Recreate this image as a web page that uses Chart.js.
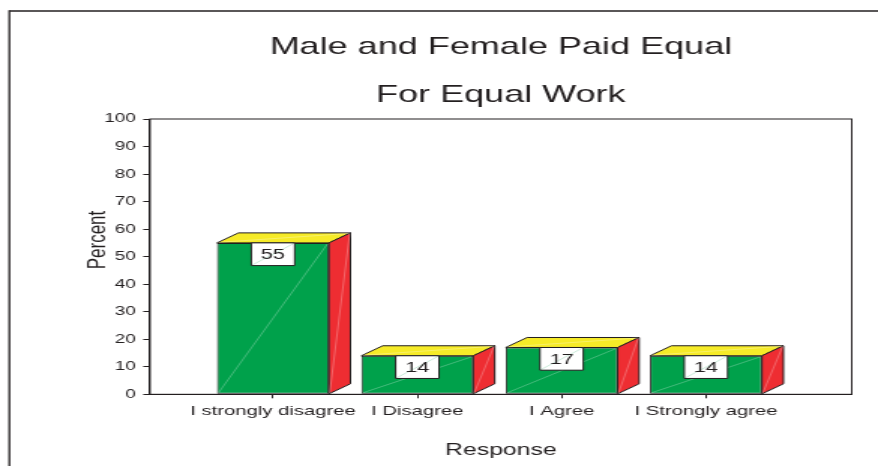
<!DOCTYPE html>
<html><head><meta charset="utf-8">
<script src="https://cdn.jsdelivr.net/npm/chart.js@4"></script>
<style>html,body{margin:0;padding:0;background:#fff;overflow:hidden}canvas{display:block}</style>
</head><body>
<canvas id="c" width="585" height="466" style="width:878px;height:466px"></canvas>
<script>
// ---- data ----
const categories = ['I strongly disagree', 'I Disagree', 'I Agree', 'I Strongly agree'];
const percentValues = [55, 14, 17, 14];
const yTickMin = 0;
const yTickMax = 100;
const yTickStep = 10;
const titleLines = ['Male and Female Paid Equal', 'For Equal Work'];
const xAxisTitle = 'Response';
const yAxisTitle = 'Percent';

// ---- styling ----
const FONT = "'Liberation Sans', Arial, Helvetica, sans-serif";
const INK = '#231F20';
const FRONT = '#00A14B', TOP = '#F6EB28', SIDE = '#EE2D32';
const DX = 14.3, DY = 10;
const BOX_W = 28.9, BOX_H = 22.7;

Chart.defaults.font.family = FONT;
Chart.defaults.color = INK;

function poly(ctx, pts, fill) {
  ctx.beginPath();
  ctx.moveTo(pts[0][0], pts[0][1]);
  for (let i = 1; i < pts.length; i++) ctx.lineTo(pts[i][0], pts[i][1]);
  ctx.closePath();
  ctx.fillStyle = fill; ctx.fill();
  ctx.strokeStyle = INK; ctx.lineWidth = 1; ctx.stroke();
}
function seam(ctx, x1, y1, x2, y2, color) {
  ctx.beginPath(); ctx.moveTo(x1, y1); ctx.lineTo(x2, y2);
  ctx.strokeStyle = color; ctx.lineWidth = 0.6; ctx.stroke();
}

const decorPlugin = {
  id: 'decor',
  beforeDraw(chart) {
    const ctx = chart.ctx;
    ctx.save();
    ctx.strokeStyle = INK;
    ctx.lineWidth = 1.6;
    ctx.beginPath(); ctx.moveTo(6.2, 11); ctx.lineTo(chart.width, 11); ctx.stroke();
    ctx.lineWidth = 1.3;
    ctx.beginPath(); ctx.moveTo(6.2, 10.2); ctx.lineTo(6.2, chart.height); ctx.stroke();
    ctx.restore();
  },
  afterDatasetsDraw(chart) {
    const ctx = chart.ctx;
    const meta = chart.getDatasetMeta(0);
    ctx.save();
    ctx.lineJoin = 'round';
    meta.data.forEach((bar, i) => {
      const {x, y, base, width} = bar.getProps(['x', 'y', 'base', 'width'], true);
      const l = x - width / 2, r = x + width / 2;
      poly(ctx, [[l, y], [l + DX, y - DY], [r + DX, y - DY], [r, y]], TOP);
      poly(ctx, [[r, y], [r + DX, y - DY], [r + DX, base - DY], [r, base]], SIDE);
      seam(ctx, l + 1, base - 1, r - 1, y + 1, 'rgba(255,255,255,0.45)');
      seam(ctx, r + 0.5, base - 0.5, r + DX - 0.5, y - DY + 0.5, 'rgba(255,255,255,0.45)');
      seam(ctx, l + 1, y - 0.5, r + DX - 1, y - DY + 0.5, 'rgba(255,255,255,0.5)');
      // value box
      const bx = x - BOX_W / 2, by = y;
      ctx.fillStyle = '#fff';
      ctx.fillRect(bx, by, BOX_W, BOX_H);
      seam(ctx, bx + 0.5, by + BOX_H - 0.5, bx + BOX_W - 0.5, by + 0.5, 'rgba(0,161,75,0.35)');
      ctx.strokeStyle = INK; ctx.lineWidth = 1;
      ctx.strokeRect(bx, by, BOX_W, BOX_H);
      ctx.fillStyle = INK;
      ctx.font = '14.5px ' + FONT;
      ctx.textAlign = 'center';
      ctx.textBaseline = 'middle';
      ctx.fillText(String(chart.data.datasets[0].data[i].y), x, by + BOX_H / 2 + 1);
    });
    ctx.restore();
  },
  afterDraw(chart) {
    const ctx = chart.ctx, a = chart.chartArea;
    ctx.save();
    ctx.strokeStyle = INK; ctx.lineWidth = 1;
    ctx.strokeRect(a.left, a.top, a.right - a.left, a.bottom - a.top);
    ctx.translate(65, 240);
    ctx.rotate(-Math.PI / 2);
    ctx.fillStyle = INK;
    ctx.font = '17px ' + FONT;
    ctx.textAlign = 'center';
    ctx.textBaseline = 'middle';
    ctx.fillText(yAxisTitle, 0, 0);
    ctx.restore();
  }
};

new Chart(document.getElementById('c'), {
  type: 'bar',
  data: {
    datasets: [{
      label: yAxisTitle,
      data: percentValues.map((v, i) => ({x: i, y: v})),
      backgroundColor: FRONT,
      borderColor: INK,
      borderWidth: 1,
      borderSkipped: false,
      barPercentage: 0.776,
      categoryPercentage: 1.0
    }]
  },
  options: {
    responsive: false,
    devicePixelRatio: 1,
    animation: false,
    layout: {padding: {left: 0, right: 17.5, top: 0, bottom: 0}},
    plugins: {
      legend: {display: false},
      tooltip: {enabled: false},
      title: {
        display: true,
        text: titleLines,
        fullSize: false,
        color: INK,
        font: {size: 24, weight: 'normal', lineHeight: 2},
        padding: {top: 23, bottom: 0}
      }
    },
    scales: {
      x: {
        type: 'linear',
        min: -0.852,
        max: 4.01,
        bounds: 'data',
        offset: false,
        grid: {display: true, offset: false, drawOnChartArea: false, drawTicks: true, tickLength: 4, color: INK},
        border: {display: true, color: INK, width: 1},
        ticks: {
          autoSkip: false, maxRotation: 0, minRotation: 0, padding: 5,
          font: {size: 13.5}, color: INK,
          callback: (v) => categories[v] !== undefined ? categories[v] : ''
        },
        afterBuildTicks: (s) => { s.ticks = categories.map((c, i) => ({value: i})); },
        afterFit: (s) => { s.height = 71.7; },
        title: {display: true, text: xAxisTitle, font: {size: 16.5}, color: INK, padding: {top: 0, bottom: 6}}
      },
      y: {
        min: yTickMin,
        max: yTickMax,
        grid: {display: true, drawOnChartArea: false, drawTicks: true, tickLength: 4.5, color: INK},
        border: {display: true, color: INK, width: 1},
        ticks: {stepSize: yTickStep, padding: 5, font: {size: 12.5}, color: INK},
        afterFit: (s) => { s.width = 99.94; },
        title: {display: false}
      }
    }
  },
  plugins: [decorPlugin]
});
</script>
</body></html>
